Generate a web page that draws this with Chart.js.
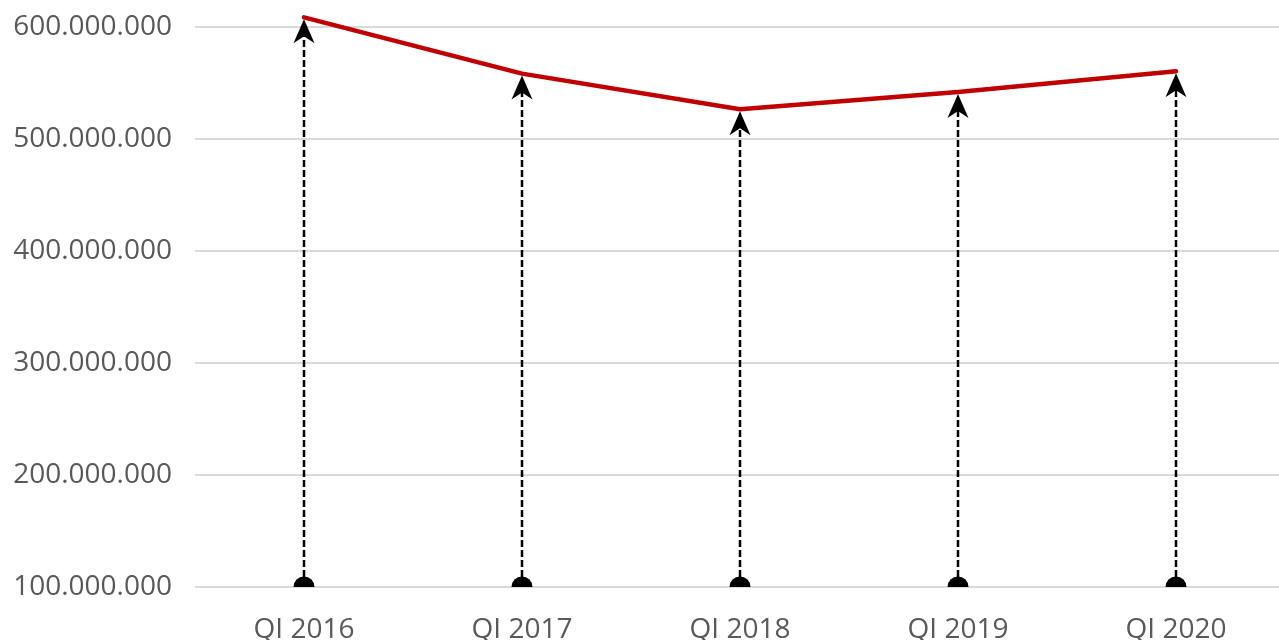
<!DOCTYPE html>
<html>
<head>
<meta charset="utf-8">
<script src="https://cdn.jsdelivr.net/npm/chart.js@4"></script>
<style>
  html, body { margin: 0; padding: 0; background: #fff; overflow: hidden; }
  #wrap { width: 1285px; height: 640px; }
</style>
</head>
<body>
<div id="wrap"><canvas id="lineChart" width="1285" height="640"></canvas></div>
<script>
var categories = ['QI 2016', 'QI 2017', 'QI 2018', 'QI 2019', 'QI 2020'];
var values = [609000000, 558700000, 526800000, 542300000, 560800000];
var arrowBase = [100000000, 100000000, 100000000, 100000000, 100000000];
var tickValues = [100000000, 200000000, 300000000, 400000000, 500000000, 600000000];

function formatDots(v) {
    return String(Math.round(v)).replace(/\B(?=(\d{3})+(?!\d))/g, '.');
}

// dashed arrows from the base up to each value
var arrowPlugin = {
    id: 'arrows',
    beforeDatasetsDraw: function (chart) {
        var c = chart.ctx;
        var xs = chart.scales.x;
        var ys = chart.scales.y;
        var area = chart.chartArea;
        c.save();
        c.beginPath();
        c.rect(area.left, area.top, area.right - area.left, area.bottom - area.top);
        c.clip();
        for (var i = 0; i < categories.length; i++) {
            var x = xs.getPixelForValue(i);
            var y0 = ys.getPixelForValue(arrowBase[i]);
            var y1 = ys.getPixelForValue(values[i]) + 2;
            // dashed shaft
            c.strokeStyle = '#000';
            c.lineWidth = 2.5;
            c.setLineDash([7, 3]);
            c.beginPath();
            c.moveTo(x, y0);
            c.lineTo(x, y1 + 14);
            c.stroke();
            c.setLineDash([]);
            // head
            c.fillStyle = '#000';
            c.beginPath();
            c.moveTo(x, y1);
            c.lineTo(x + 10.5, y1 + 24);
            c.lineTo(x, y1 + 17);
            c.lineTo(x - 10.5, y1 + 24);
            c.closePath();
            c.fill();
            // dot at the base
            c.beginPath();
            c.arc(x, y0, 10.5, 0, Math.PI * 2);
            c.fill();
        }
        c.restore();
    }
};

var ctx = document.getElementById('lineChart').getContext('2d');
var lineChart = new Chart(ctx, {
    type: 'line',
    data: {
        labels: categories,
        datasets: [{
            label: 'Value',
            data: values,
            borderColor: '#c00000',
            borderWidth: 4.5,
            pointRadius: 0,
            borderCapStyle: 'round',
            borderJoinStyle: 'round',
            tension: 0
        }]
    },
    options: {
        responsive: false,
        animation: false,
        layout: { padding: { top: 5, right: 0, left: 0, bottom: 0 } },
        plugins: {
            legend: { display: false },
            tooltip: { enabled: false }
        },
        scales: {
            x: {
                offset: true,
                grid: { display: false, drawTicks: false },
                border: { display: false },
                ticks: {
                    color: '#595959',
                    font: { family: 'Open Sans', size: 28 },
                    padding: 26,
                    maxRotation: 0
                },
                afterFit: function (s) {
                    s.height = 53;
                    s.paddingLeft = 0;
                    s.paddingRight = 0;
                }
            },
            y: {
                min: 100000000,
                max: 620000000,
                afterBuildTicks: function (s) {
                    s.ticks = tickValues.map(function (v) { return { value: v }; });
                },
                grid: { color: '#d9d9d9', lineWidth: 2, drawTicks: false },
                border: { display: false },
                ticks: {
                    color: '#595959',
                    font: { family: 'Open Sans', size: 28 },
                    padding: 23,
                    callback: function (v) { return formatDots(v); }
                },
                afterFit: function (s) {
                    s.width = 195;
                    s.paddingTop = 0;
                    s.paddingBottom = 0;
                }
            }
        }
    },
    plugins: [arrowPlugin]
});
</script>
</body>
</html>
